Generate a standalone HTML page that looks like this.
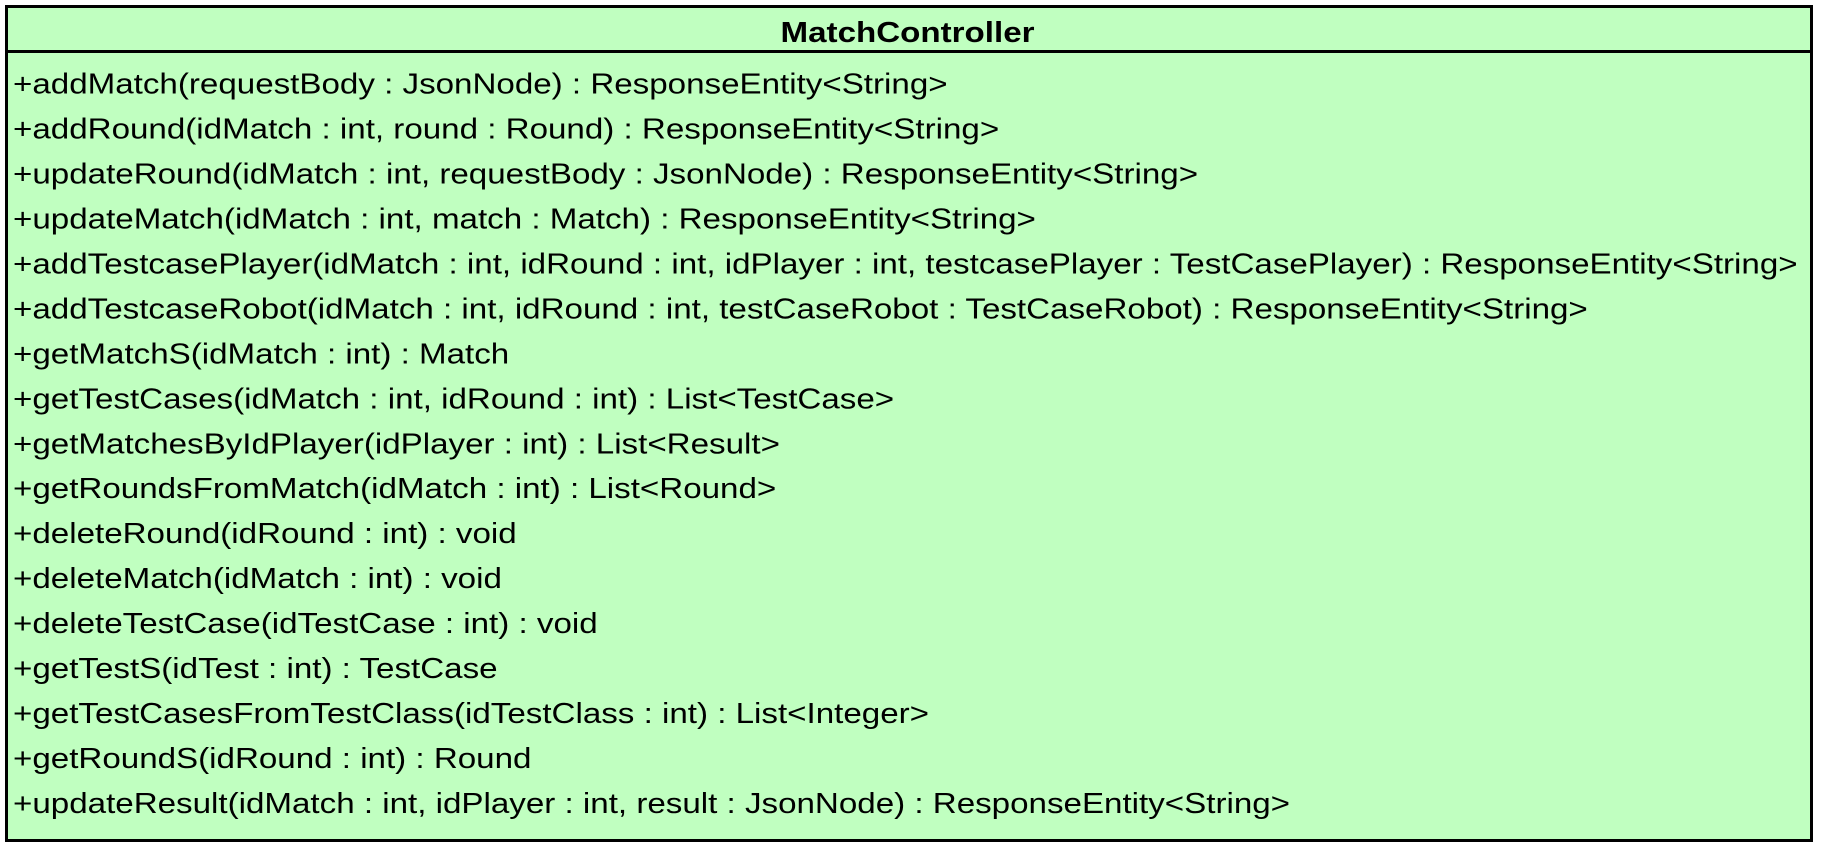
<!DOCTYPE html>
<html><head><meta charset="utf-8"><style>
html,body{margin:0;padding:0;background:#fff;width:1824px;height:849px;overflow:hidden}
svg{display:block}
text{font-family:"Liberation Sans",Arial,sans-serif;font-size:29px;fill:#000}
</style></head><body>
<svg width="1824" height="849" viewBox="0 0 1824 849">
<rect x="6.5" y="6.5" width="1805" height="834" fill="#c0ffc0" stroke="#000" stroke-width="3"/>
<line x1="6" y1="51.5" x2="1812" y2="51.5" stroke="#000" stroke-width="3"/>
<g transform="scale(1.143,1)">
<text x="794" y="42" text-anchor="middle" font-weight="bold">MatchController</text>
<text x="11.4" y="93.7">+addMatch(requestBody : JsonNode) : ResponseEntity&lt;String&gt;</text>
<text x="11.4" y="138.6">+addRound(idMatch : int, round : Round) : ResponseEntity&lt;String&gt;</text>
<text x="11.4" y="183.6">+updateRound(idMatch : int, requestBody : JsonNode) : ResponseEntity&lt;String&gt;</text>
<text x="11.4" y="228.5">+updateMatch(idMatch : int, match : Match) : ResponseEntity&lt;String&gt;</text>
<text x="11.4" y="273.5">+addTestcasePlayer(idMatch : int, idRound : int, idPlayer : int, testcasePlayer : TestCasePlayer) : ResponseEntity&lt;String&gt;</text>
<text x="11.4" y="318.4">+addTestcaseRobot(idMatch : int, idRound : int, testCaseRobot : TestCaseRobot) : ResponseEntity&lt;String&gt;</text>
<text x="11.4" y="363.4">+getMatchS(idMatch : int) : Match</text>
<text x="11.4" y="408.3">+getTestCases(idMatch : int, idRound : int) : List&lt;TestCase&gt;</text>
<text x="11.4" y="453.3">+getMatchesByIdPlayer(idPlayer : int) : List&lt;Result&gt;</text>
<text x="11.4" y="498.2">+getRoundsFromMatch(idMatch : int) : List&lt;Round&gt;</text>
<text x="11.4" y="543.2">+deleteRound(idRound : int) : void</text>
<text x="11.4" y="588.1">+deleteMatch(idMatch : int) : void</text>
<text x="11.4" y="633.1">+deleteTestCase(idTestCase : int) : void</text>
<text x="11.4" y="678">+getTestS(idTest : int) : TestCase</text>
<text x="11.4" y="723">+getTestCasesFromTestClass(idTestClass : int) : List&lt;Integer&gt;</text>
<text x="11.4" y="767.9">+getRoundS(idRound : int) : Round</text>
<text x="11.4" y="812.9">+updateResult(idMatch : int, idPlayer : int, result : JsonNode) : ResponseEntity&lt;String&gt;</text>
</g>
</svg>
</body></html>
